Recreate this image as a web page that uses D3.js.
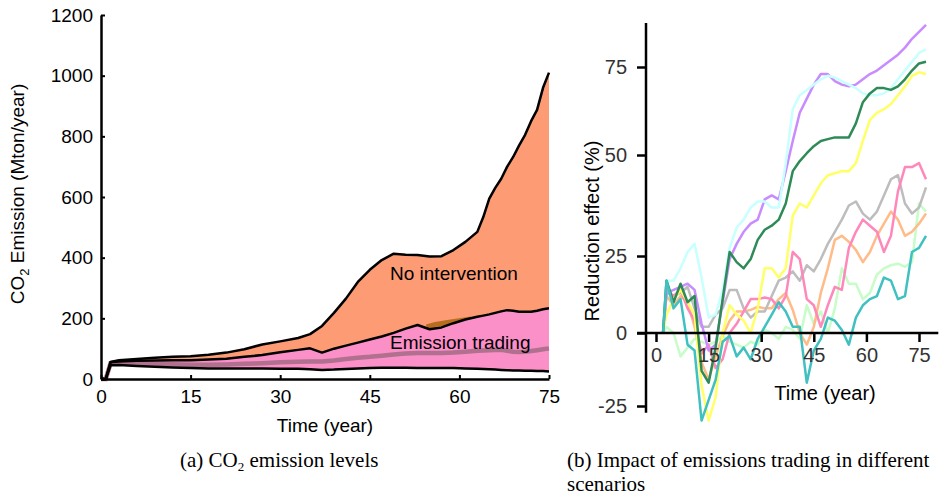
<!DOCTYPE html>
<html>
<head>
<meta charset="utf-8">
<script src="https://d3js.org/d3.v7.min.js"></script>
<style>
  body { margin: 0; background: #fff; }
  svg text { font-family: "Liberation Sans", Arial, sans-serif; }
</style>
</head>
<body>
<div id="chart"></div>
<script>
// ---- panel (a): CO2 emission levels ----
var emisYears = [0,0.8,1.6,3,6,9,12,15,18,21,24,27,30,33,35,37,39,41,43,45,47,49,51,53,55,57,59,61,63,64,65,66,67,68,69,70,71,72,73,74,75];
var noInterventionHigh = [0,0,56,62,66,70,73,75,80,87,98,114,124,135,148,175,218,265,320,360,392,413,410,409,404,405,425,452,485,534,595,630,660,700,732,770,805,850,887,960,1010];
var tradingHigh = [0,0,55,58,60,61,62,62,64,67,73,79,88,96,101,87,100,110,120,130,140,152,166,178,164,170,184,196,205,209,213,218,223,227,225,222,222,222,225,230,233];
var tradingLow = [0,0,45,46,43,40,38,36,35,35,35,35,34,34,32,30,31,33,35,36,37,37,37,36,36,36,36,35,34,33,32,31,30,29,28,28,27,27,26,26,25];
var tradingMean = [0,0,52,54,53,51,49,47,47,48,50,52,55,57,58,58,61,66,70,73,77,81,84,86,86,86,87,90,93,94,95,96,96,93,90,89,90,92,95,98,101];
var overlapYears = [54.5,56,58,60,62];
var overlapValues = [172,180,186,192,198];
var emisTicksX = [0,15,30,45,60,75];
var emisTicksY = [0,200,400,600,800,1000,1200];

// ---- panel (b): reduction effect per scenario ----
var redYears = [2,3,5,7,9,11,13,15,17,19,21,23,25,27,29,31,33,35,37,39,41,43,45,47,49,51,53,55,57,59,61,63,65,67,69,71,73,75,77];
var scenLightGreen = [0,2,0,-8,-5,-2,-3,-4,-3,-1,-3,-4,-5,-3,-4,1,0,-2,2,1,-2,9,3,7,0,8,21,16,16,11,13,19,21,22,22.5,21.5,23,38,36];
var scenOrange = [0,12,9,12,10,2,-10,-16,-8,-1,4,7,7,7.5,8.5,8,8,11,13,7.5,0,-4,2,13,21,29,30,28.5,26.5,23,26,30,33,36,34,30,31,33,35.5];
var scenGray = [0,13,12,13,15,8,2,2,6,8,14,14,8,5,7,7,12,17,18,20,17,22,20,24,28,31,34,37.5,38.5,35.5,34,36,40,44,45,38,35.5,37,42];
var scenPink = [0,14,12,14,8,4,-7,-4,-12,-9,0,3,7,11,11,11.5,11,8,12,26,24,11,9,2,9,15,14,27,31,34,32.5,31,26,30,41,47,47,48,44];
var scenYellow = [0,6,11,14,10,6,-18,-30,-22,0,9,6,4,0,8,21,21,18,21,35,38,37,40,43,45,45.5,46,46,48,54,60,62,63,64.5,67,69.5,72.5,73.5,73];
var scenPurple = [0,13,14,15,16,14,3,-6,-4,10,24,28,31,33,34,39,40,39,46,54,62,66,70,73,73,71,70,69.5,70,71.5,73,74,75.5,77,78.5,80.5,83,85,87];
var scenCyan = [0,17,17,21,26,28,18,5,6,14,27,32,34,37,38.5,38.5,37,37,48,63,67,68.5,70,71.5,72.5,72,71,70,69,67.5,67,67,67.5,69,71.5,74,76.5,79,80];
var scenGreen = [0,17,10,16,10,12,-13,-17,-5,11,26,23,21,24,29,31.5,32.5,34,38,46,48.5,50.5,52.5,54,54.5,55,55,55,59,65,67.5,69,69,68.5,69.5,71.5,74,76,76.5];
var scenTeal = [0,17,8,11,-4,-6,-30,-23,-16,-3,-1,-8,-5,-9,-2,2,6,10,7,2,2,-17,-6,-2,5,4,1,-4,5,9,11,12,18,17,11,12,26,27,30];
var redTicksX = [0,15,30,45,60,75];
var redTicksY = [-25,0,25,50,75];

var svg = d3.select("#chart").append("svg")
  .attr("width", 950)
  .attr("height", 497);

// ================= panel (a) =================
var xL = d3.scaleLinear().domain([0, 75]).range([101, 549]);
var yL = d3.scaleLinear().domain([0, 1200]).range([379, 15]);

var gA = svg.append("g");

var band = d3.area()
  .x(function(d) { return xL(d.t); })
  .y0(function(d) { return yL(d.lo); })
  .y1(function(d) { return yL(d.hi); });

var niRows = emisYears.map(function(t, i) { return {t: t, lo: tradingLow[i], hi: noInterventionHigh[i]}; });
var etRows = emisYears.map(function(t, i) { return {t: t, lo: tradingLow[i], hi: tradingHigh[i]}; });

gA.append("path").datum(niRows)
  .attr("fill", "#fd9b75")
  .attr("d", band);

// overlap of the two bands
gA.append("path")
  .datum(overlapYears.map(function(t, i) { return [xL(t), yL(overlapValues[i])]; }))
  .attr("fill", "none")
  .attr("stroke", "#b66e1e")
  .attr("stroke-width", 5)
  .attr("d", d3.line());

gA.append("path").datum(etRows)
  .attr("fill", "#fb8fc8")
  .attr("d", band);

gA.append("path")
  .datum(emisYears.map(function(t, i) { return [xL(t), yL(tradingMean[i])]; }))
  .attr("fill", "none")
  .attr("stroke", "#b0708e")
  .attr("stroke-width", 4.5)
  .attr("d", d3.line());

[noInterventionHigh, tradingHigh, tradingLow].forEach(function(arr) {
  gA.append("path")
    .datum(emisYears.map(function(t, i) { return [xL(t), yL(arr[i])]; }))
    .attr("fill", "none")
    .attr("stroke", "#000")
    .attr("stroke-width", 2.5)
    .attr("stroke-linejoin", "round")
    .attr("d", d3.line());
});

var axL = gA.append("g")
  .attr("transform", "translate(101,0)")
  .call(d3.axisLeft(yL).tickValues(emisTicksY).tickFormat(function(d) { return String(d); })
    .tickSizeInner(-4).tickSizeOuter(0).tickPadding(8));
var axB = gA.append("g")
  .attr("transform", "translate(0,379)")
  .call(d3.axisBottom(xL).tickValues(emisTicksX).tickFormat(function(d) { return String(d); })
    .tickSizeInner(-4).tickSizeOuter(0).tickPadding(11));
[axL, axB].forEach(function(a) {
  a.select(".domain").attr("stroke-width", 2.5);
  a.selectAll(".tick line").attr("stroke-width", 2);
  a.selectAll(".tick text").attr("font-size", 19).attr("fill", "#000")
    .attr("font-family", "Liberation Sans, Arial, sans-serif");
});

gA.append("text")
  .attr("x", 325).attr("y", 432)
  .attr("text-anchor", "middle")
  .attr("font-size", 19)
  .text("Time (year)");

var yLab = gA.append("text")
  .attr("transform", "translate(24,194) rotate(-90)")
  .attr("text-anchor", "middle")
  .attr("font-size", 19);
yLab.append("tspan").text("CO");
yLab.append("tspan").attr("font-size", 13).attr("dy", 5).text("2");
yLab.append("tspan").attr("dy", -5).text(" Emission (Mton/year)");

gA.append("text")
  .attr("x", 390).attr("y", 280)
  .attr("font-size", 19)
  .text("No intervention");
gA.append("text")
  .attr("x", 390).attr("y", 349)
  .attr("font-size", 19)
  .text("Emission trading");

// ================= panel (b) =================
var xR = d3.scaleLinear().domain([0, 75]).range([656, 919]);
var yR = d3.scaleLinear().domain(redTicksY).range([406, 333, 256, 155, 67]);

var gB = svg.append("g");

var scenarios = [
  {vals: scenLightGreen, color: "#c8fcc8"},
  {vals: scenOrange, color: "#ffbb88"},
  {vals: scenGray, color: "#bdbdbd"},
  {vals: scenPink, color: "#ff88bb"},
  {vals: scenYellow, color: "#ffff66"},
  {vals: scenPurple, color: "#c88cff"},
  {vals: scenCyan, color: "#c8ffff"},
  {vals: scenGreen, color: "#2e8b57"},
  {vals: scenTeal, color: "#40c0c0"}
];

var lineR = d3.line()
  .x(function(d) { return xR(d[0]); })
  .y(function(d) { return yR(d[1]); });

scenarios.forEach(function(s) {
  gB.append("path")
    .datum(redYears.map(function(t, i) { return [t, s.vals[i]]; }))
    .attr("fill", "none")
    .attr("stroke", s.color)
    .attr("stroke-width", 2.5)
    .attr("stroke-linejoin", "round")
    .attr("d", lineR);
});

// axis lines
gB.append("line")
  .attr("x1", xR(-2.85)).attr("x2", xR(-2.85))
  .attr("y1", yR(-27.3)).attr("y2", yR(87.5))
  .attr("stroke", "#000").attr("stroke-width", 2.5);
gB.append("line")
  .attr("x1", xR(-5.4)).attr("x2", xR(80.5))
  .attr("y1", yR(0)).attr("y2", yR(0))
  .attr("stroke", "#000").attr("stroke-width", 2.5);

var axRL = gB.append("g")
  .attr("transform", "translate(" + xR(-2.85) + ",0)")
  .call(d3.axisLeft(yR).tickValues(redTicksY).tickFormat(function(d) { return String(d); })
    .tickSize(9).tickPadding(10));
var axRB = gB.append("g")
  .attr("transform", "translate(0," + yR(0) + ")")
  .call(d3.axisBottom(xR).tickValues(redTicksX).tickFormat(function(d) { return String(d); })
    .tickSize(9).tickPadding(6));
[axRL, axRB].forEach(function(a) {
  a.select(".domain").remove();
  a.selectAll(".tick line").attr("stroke-width", 2.5);
  a.selectAll(".tick text").attr("font-size", 20).attr("fill", "#333")
    .attr("font-family", "Lato, 'Open Sans', sans-serif").attr("font-weight", 300);
});

gB.append("text")
  .attr("x", 825).attr("y", 400)
  .attr("text-anchor", "middle")
  .attr("font-size", 20)
  .text("Time (year)");

gB.append("text")
  .attr("transform", "translate(599,231) rotate(-90)")
  .attr("text-anchor", "middle")
  .attr("font-size", 20)
  .text("Reduction effect (%)");

// ================= captions =================
var serif = "'Liberation Serif', 'DejaVu Serif', serif";
var capA = svg.append("text")
  .attr("x", 180).attr("y", 467)
  .attr("font-size", 21)
  .style("font-family", serif);
capA.append("tspan").text("(a) CO");
capA.append("tspan").attr("font-size", 13).attr("dy", 4).text("2");
capA.append("tspan").attr("dy", -4).text(" emission levels");

svg.append("text")
  .attr("x", 567).attr("y", 467)
  .attr("font-size", 21)
  .style("font-family", serif)
  .text("(b) Impact of emissions trading in different");
svg.append("text")
  .attr("x", 567).attr("y", 491)
  .attr("font-size", 21)
  .style("font-family", serif)
  .text("scenarios");
</script>
</body>
</html>
